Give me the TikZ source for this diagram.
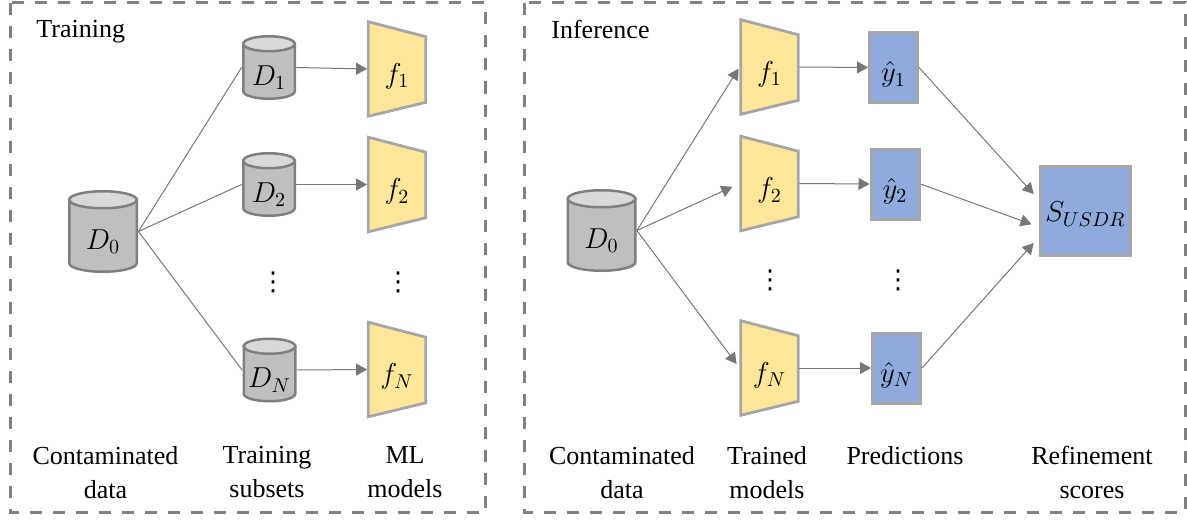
\documentclass[tikz,border=0pt]{standalone}
\usepackage{fontspec}
\setmainfont{Liberation Serif}
\newfontfamily\dotsfont{DejaVu Sans}
\usetikzlibrary{arrows.meta,calc}
\definecolor{framegray}{HTML}{808080}
\definecolor{cylborder}{HTML}{7F7F7F}
\definecolor{cylbody}{HTML}{BFBFBF}
\definecolor{cyltop}{HTML}{D9D9D9}
\definecolor{modelfill}{HTML}{FFE699}
\definecolor{modelborder}{HTML}{A6A6A6}
\definecolor{predfill}{HTML}{8FAADC}
\definecolor{predborder}{HTML}{A6A6A6}
\definecolor{arrowgray}{HTML}{7A7676}
\tikzset{
  panel/.style={draw=framegray, line width=1.5pt, dash pattern=on 6pt off 5.5pt},
  cylline/.style={draw=cylborder, line width=1.25pt},
  modelline/.style={draw=modelborder, fill=modelfill, line width=1.4pt, line join=miter},
  invnode/.style={inner sep=0pt, font=\fontsize{14}{16}\selectfont},
  pred/.style={draw=predborder, fill=predfill, line width=1.5pt, inner sep=0pt,
    minimum width=24pt, minimum height=35pt, font=\fontsize{14}{16}\selectfont},
  conn/.style={draw=arrowgray, line width=0.5pt},
  arr/.style={conn, -{Triangle[length=5.5pt,width=6pt]}},
  lbl/.style={anchor=north, inner sep=0pt, align=center, font=\fontsize{13}{17}\selectfont},
  ttl/.style={anchor=north west, inner sep=0pt, font=\fontsize{13}{17}\selectfont},
  dotsnode/.style={inner sep=0pt, font=\dotsfont\fontsize{13}{15}\selectfont},
}
\newcommand{\dbcyl}[7]{%
  \pgfmathsetmacro{\cylhw}{#4/2-1.25}%
  \pgfmathsetmacro{\cylyt}{#3-#5/2+1.25+#6}%
  \pgfmathsetmacro{\cylyb}{#3+#5/2-1.25-#6}%
  \draw[cylline,fill=cylbody] (#2-\cylhw,\cylyt) -- (#2-\cylhw,\cylyb)
     arc[start angle=180,end angle=0,x radius=\cylhw,y radius=#6] -- (#2+\cylhw,\cylyt) -- cycle;
  \draw[cylline,fill=cyltop] (#2,\cylyt) ellipse[x radius=\cylhw, y radius=#6];
  \node[invnode, minimum width=#4*0.5pt, minimum height=#5*0.5pt] (#1) at (#2,#3)
     {\raisebox{-5pt}[\height][\depth]{#7}};
}
\newcommand{\mlmodel}[4]{%
  \draw[modelline] (#2-28.8,#3-47.3) -- (#2+28.8,#3-32.3) -- (#2+28.8,#3+33.3) -- (#2-28.8,#3+47.3) -- cycle;
  \node[invnode, minimum width=29.5pt, minimum height=48pt] (#1) at (#2,#3)
     {\raisebox{-3.5pt}[\height][\depth]{#4}};
}
\begin{document}
\begin{tikzpicture}[x=0.5pt,y=-0.5pt]
\useasboundingbox (0,0) rectangle (1187,519);
% panels
\draw[panel] (10,3) rectangle (485.5,512);
\draw[panel] (524,3) rectangle (1185,512);
\node[ttl] (ttrain) at (36,20) {Training};
\node[ttl] (tinf) at (551,20) {Inference};

% ---------- Training ----------
\dbcyl{LD0}{103}{231.5}{70}{83}{8.5}{$D_0$}
\dbcyl{LD1}{269}{67.5}{54}{65}{7.5}{$D_1$}
\dbcyl{LD2}{269}{184.5}{54}{65}{7.5}{$D_2$}
\dbcyl{LDN}{269.5}{370}{54}{65}{7.5}{$D_N$}
\mlmodel{Lf1}{397}{69}{$f_1$}
\mlmodel{Lf2}{397}{184.5}{$f_2$}
\mlmodel{LfN}{397}{369.5}{$f_N$}
\node[dotsnode] (Ldots1) at (273,282) {⋮};
\node[dotsnode] (Ldots2) at (398,282) {⋮};

\draw[conn] (LD0.east) -- (LD1.west);
\draw[conn] (LD0.east) -- (LD2.west);
\draw[conn] (LD0.east) -- (LDN.west);
\draw[arr] (LD1.east) -- (Lf1.west);
\draw[arr] (LD2.east) -- (Lf2.west);
\draw[arr] (LDN.east) -- (LfN.west);

\node[lbl] (Llab1) at (105.5,446) {Contaminated\\data};
\node[lbl] (Llab2) at (267,446) {Training\\subsets};
\node[lbl] (Llab3) at (405,446) {ML\\models};

% ---------- Inference ----------
\dbcyl{RD0}{601.5}{230.5}{70}{83}{8.5}{$D_0$}
\mlmodel{Rf1}{769.5}{67}{$f_1$}
\mlmodel{Rf2}{769.5}{183.5}{$f_2$}
\mlmodel{RfN}{769.5}{368}{$f_N$}
\node[pred] (y1) at (893.5,67.5) {\raisebox{-3.5pt}[\height][\depth]{$\hat{y}_1$}};
\node[pred] (y2) at (895,184) {\raisebox{-3.5pt}[\height][\depth]{$\hat{y}_2$}};
\node[pred] (yN) at (896.5,368) {\raisebox{-3.5pt}[\height][\depth]{$\hat{y}_N$}};
\node[pred, minimum width=45pt, minimum height=44.5pt] (S) at (1085.5,211)
   {\raisebox{-1.5pt}[\height][\depth]{$S_{USDR}$}};
\node[dotsnode] (Rdots1) at (770,280) {⋮};
\node[dotsnode] (Rdots2) at (898,280) {⋮};

\draw[arr, shorten >=1pt] (RD0.east) -- (Rf1.west);
\draw[arr, shorten >=4pt] (RD0.east) -- (Rf2.west);
\draw[arr, shorten >=2.5pt] (RD0.east) -- (RfN.west);
\draw[arr] (Rf1.east) -- (y1.west);
\draw[arr] (Rf2.east) -- (y2.west);
\draw[arr] (RfN.east) -- (yN.west);
\draw[arr, shorten >=4pt] (y1.east) -- ([yshift=5.5pt]S.west);
\draw[arr, shorten >=4pt] (y2.east) -- ([yshift=-8pt]S.west);
\draw[arr, shorten >=4pt] (yN.east) -- ([yshift=-13pt]S.west);

\node[lbl] (Rlab1) at (622,446) {Contaminated\\data};
\node[lbl] (Rlab2) at (767,446) {Trained\\models};
\node[lbl] (Rlab3) at (905,446) {Predictions};
\node[lbl] (Rlab4) at (1092,446) {Refinement\\scores};
\end{tikzpicture}
\end{document}
